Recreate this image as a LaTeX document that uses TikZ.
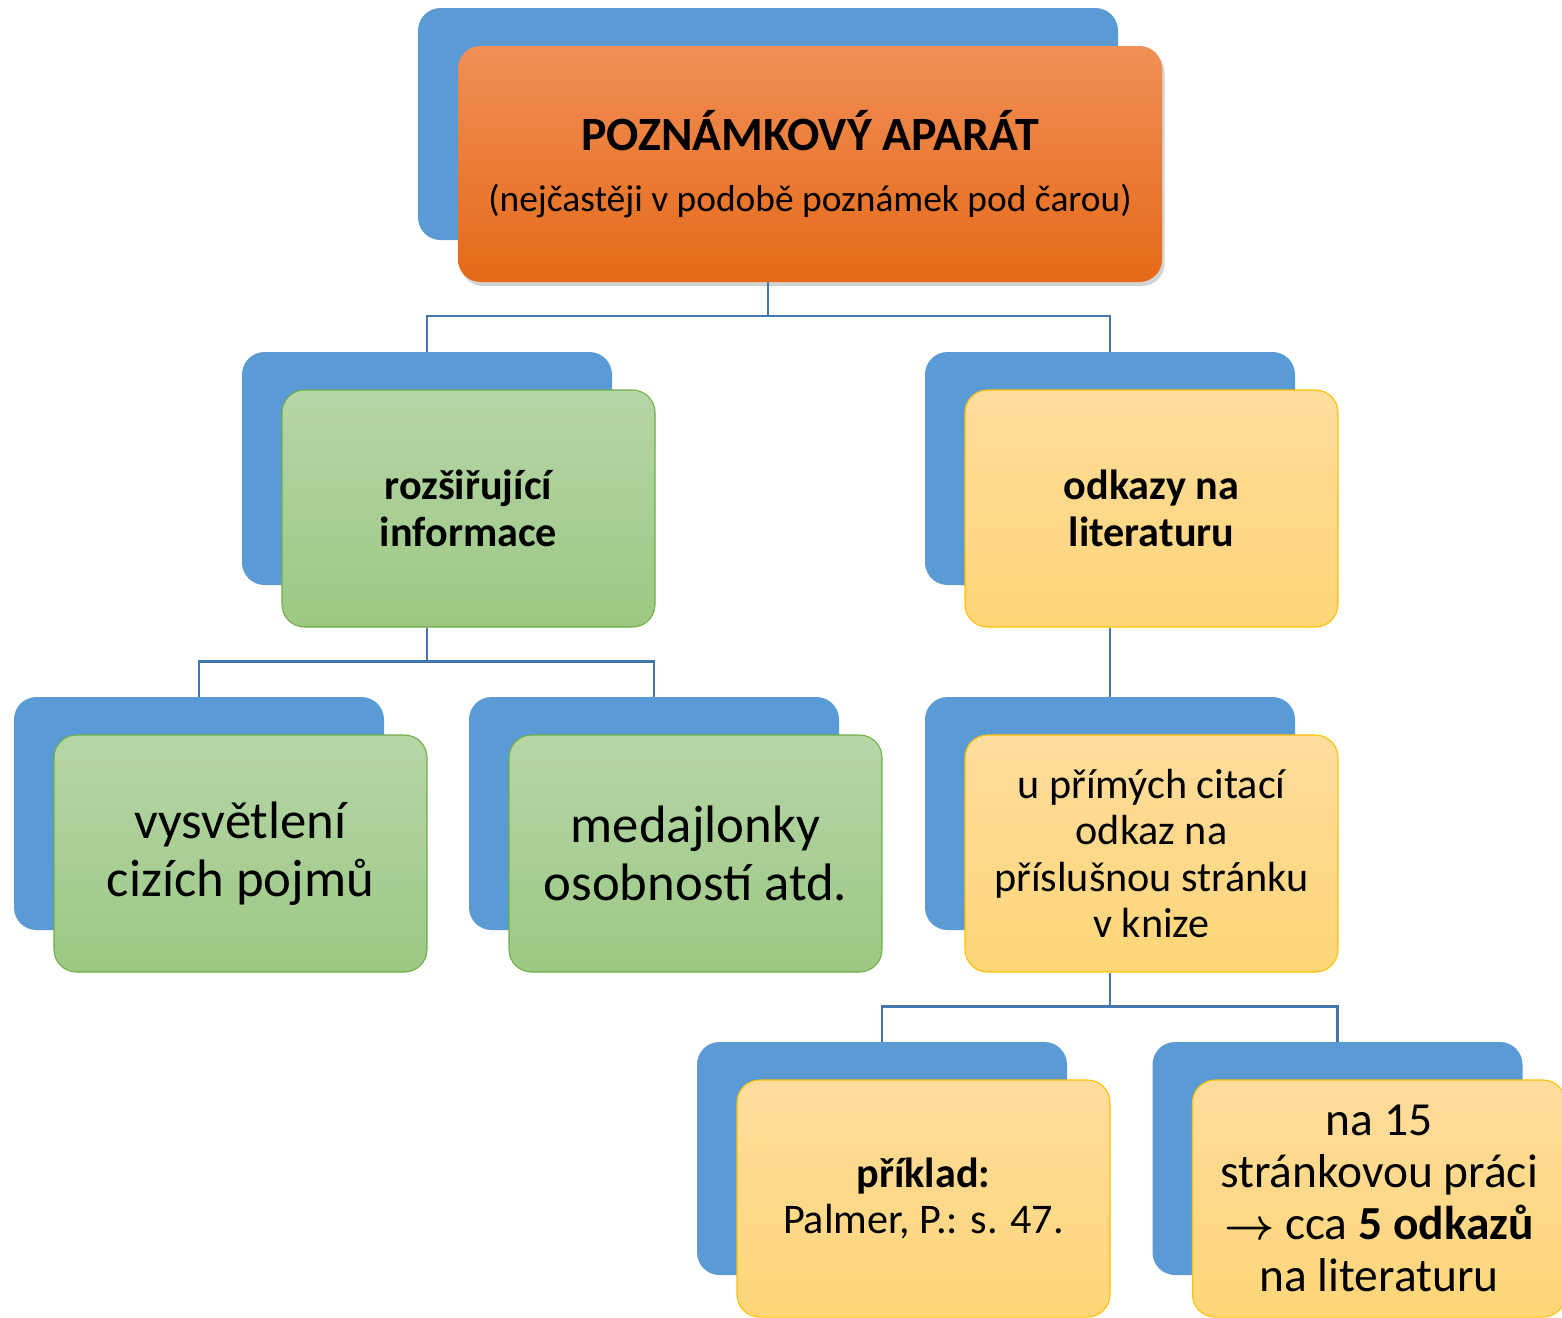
\documentclass[tikz,border=0pt]{standalone}
\usepackage{fontspec}
\setmainfont{Carlito}
\usetikzlibrary{positioning,shadows}

\definecolor{backblue}{RGB}{91,155,213}
\definecolor{linkblue}{RGB}{68,118,176}
\definecolor{orangetop}{RGB}{241,143,86}
\definecolor{orangebot}{RGB}{228,106,24}
\definecolor{greentop}{RGB}{182,214,166}
\definecolor{greenbot}{RGB}{156,200,132}
\definecolor{greenline}{RGB}{112,173,71}
\definecolor{yellowtop}{RGB}{254,220,156}
\definecolor{yellowbot}{RGB}{254,214,120}
\definecolor{yellowline}{RGB}{255,192,0}

\begin{document}
\begin{tikzpicture}[
    back/.style={fill=backblue, rounded corners=0.45cm, minimum width=7.4cm, minimum height=4.66cm},
    front/.style={rounded corners=0.45cm, minimum width=7.46cm, minimum height=4.74cm, align=center, line width=0.6pt},
    greenbox/.style={front, top color=greentop, bottom color=greenbot, draw=greenline},
    yellowbox/.style={front, top color=yellowtop, bottom color=yellowbot, draw=yellowline},
    orangebox/.style={rounded corners=0.45cm, minimum width=14.08cm, minimum height=4.72cm, align=center,
        top color=orangetop, bottom color=orangebot,
        drop shadow={opacity=0.35, shadow xshift=0.05cm, shadow yshift=-0.08cm}},
    conn/.style={draw=linkblue, line width=1.2pt}
]
    \useasboundingbox (0,0) rectangle (31.24,-26.34);

    % Top box
    \node[back, minimum width=14cm, minimum height=4.64cm] (topB) at (15.36,-2.48) {};
    \node[orangebox, font=\fontsize{21.3}{25}\selectfont] (topF) at ([shift={(0.84,-0.8)}]topB.center)
        {{\fontsize{27.2}{32}\selectfont\bfseries POZNÁMKOVÝ APARÁT}\\[10pt](nejčastěji v podobě poznámek pod čarou)};

    % Level 2
    \node[back] (infoB) at (8.54,-9.37) {};
    \node[greenbox, font=\fontsize{24}{26.4}\selectfont\bfseries] (infoF) at ([shift={(0.83,-0.8)}]infoB.center)
        {rozšiřující\\informace};
    \node[back] (litB) at (22.2,-9.37) {};
    \node[yellowbox, font=\fontsize{24}{26.4}\selectfont\bfseries] (litF) at ([shift={(0.83,-0.8)}]litB.center)
        {odkazy na\\literaturu};

    % Level 3
    \node[back] (explB) at (3.98,-16.27) {};
    \node[greenbox, font=\fontsize{30}{33}\selectfont] (explF) at ([shift={(0.83,-0.8)}]explB.center)
        {vysvětlení\\cizích pojmů};
    \node[back] (medB) at (13.08,-16.27) {};
    \node[greenbox, font=\fontsize{30}{33}\selectfont] (medF) at ([shift={(0.83,-0.8)}]medB.center)
        {medajlonky\\osobností atd.};
    \node[back] (citB) at (22.2,-16.27) {};
    \node[yellowbox, font=\fontsize{24}{26.4}\selectfont] (citF) at ([shift={(0.83,-0.8)}]citB.center)
        {u přímých citací\\odkaz na\\příslušnou stránku\\v knize};

    % Level 4
    \node[back] (exB) at (17.64,-23.17) {};
    \node[yellowbox, font=\fontsize{24}{26.4}\selectfont] (exF) at ([shift={(0.83,-0.8)}]exB.center)
        {\textbf{příklad:}\\Palmer, P.: s. 47.};
    \node[back] (cntB) at (26.75,-23.17) {};
    \node[yellowbox, font=\fontsize{27}{29.6}\selectfont] (cntF) at ([shift={(0.83,-0.8)}]cntB.center)
        {na 15\\stránkovou práci\\{\boldmath$\rightarrow$} cca \textbf{5 odkazů}\\na literaturu};

    % Connectors
    \draw[conn] (topB.center |- topF.south) -- ++(0,-0.68) -| (infoB.north);
    \draw[conn] (topB.center |- topF.south) -- ++(0,-0.68) -| (litB.north);
    \draw[conn] (infoB.center |- infoF.south) -- ++(0,-0.68) -| (explB.north);
    \draw[conn] (infoB.center |- infoF.south) -- ++(0,-0.68) -| (medB.north);
    \draw[conn] (litB.center |- litF.south) -- (citB.north);
    \draw[conn] (citB.center |- citF.south) -- ++(0,-0.68) -| (exB.north);
    \draw[conn] (citB.center |- citF.south) -- ++(0,-0.68) -| (cntB.north);
\end{tikzpicture}
\end{document}
